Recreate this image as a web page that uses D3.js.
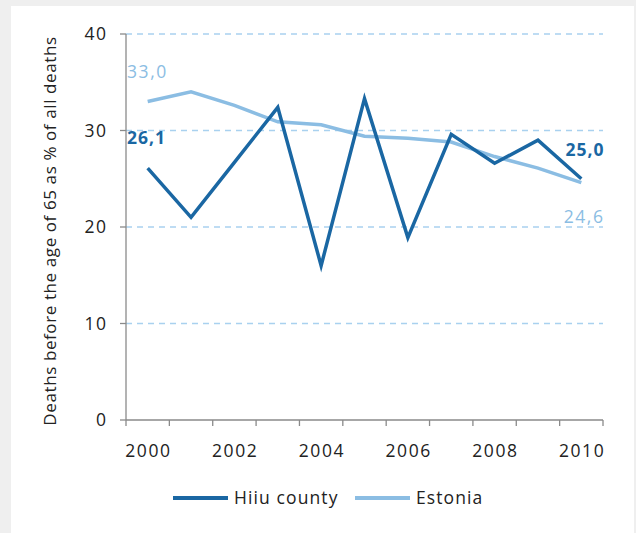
<!DOCTYPE html>
<html>
<head>
<meta charset="utf-8">
<script src="https://cdn.jsdelivr.net/npm/d3@7"></script>
<style>
  html, body { margin: 0; padding: 0; background: #efefef; }
  svg { display: block; }
  text { font-family: "Open Sans", sans-serif; fill: #222; }
</style>
</head>
<body>
<svg id="chart" width="636" height="533"></svg>
<script>
// données
const years   = [2000, 2001, 2002, 2003, 2004, 2005, 2006, 2007, 2008, 2009, 2010];
const hiiu    = [26.1, 21.0, 26.7, 32.4, 16.0, 33.3, 18.9, 29.6, 26.6, 29.0, 25.0];
const estonia = [33.0, 34.0, 32.6, 30.9, 30.6, 29.4, 29.2, 28.8, 27.3, 26.1, 24.6];
const yTicks  = [0, 10, 20, 30, 40];
const xLabels = [2000, 2002, 2004, 2006, 2008, 2010];
const series  = [
  { name: "Hiiu county", values: hiiu,    color: "#1a67a3" },
  { name: "Estonia",     values: estonia, color: "#8bbde3" }
];

const svg = d3.select("#chart");

// panneau blanc
svg.append("rect")
  .attr("x", 11).attr("y", 6)
  .attr("width", 623).attr("height", 527)
  .attr("fill", "#fff");

const mLeft = 126, mRight = 603, mTop = 34, mBottom = 420;
const LS = 1.6; // espacement des chiffres

const x = d3.scaleBand().domain(years).range([mLeft, mRight]);
const y = d3.scaleLinear().domain([0, 40]).range([mBottom, mTop]);
const cx = d => x(d) + x.bandwidth() / 2;

// grille en tirets
svg.append("g")
  .selectAll("line")
  .data(yTicks.filter(t => t > 0))
  .join("line")
  .attr("x1", mLeft).attr("x2", mRight)
  .attr("y1", d => y(d)).attr("y2", d => y(d))
  .attr("stroke", "#a9d1ef")
  .attr("stroke-width", 1.3)
  .attr("stroke-dasharray", "6,5");

// axe Y
svg.append("line")
  .attr("x1", mLeft).attr("x2", mLeft)
  .attr("y1", mTop).attr("y2", mBottom)
  .attr("stroke", "#8a8a8a").attr("stroke-width", 1.3);

svg.append("g")
  .selectAll("line")
  .data(yTicks)
  .join("line")
  .attr("x1", mLeft - 6).attr("x2", mLeft)
  .attr("y1", d => y(d)).attr("y2", d => y(d))
  .attr("stroke", "#8a8a8a").attr("stroke-width", 1.3);

svg.append("g")
  .selectAll("text")
  .data(yTicks)
  .join("text")
  .attr("x", 106 + LS)
  .attr("y", d => y(d))
  .attr("dy", "0.36em")
  .attr("text-anchor", "end")
  .style("font-size", "17.5px")
  .style("letter-spacing", LS + "px")
  .text(d => d);

// axe X
svg.append("line")
  .attr("x1", mLeft).attr("x2", mRight)
  .attr("y1", mBottom).attr("y2", mBottom)
  .attr("stroke", "#8a8a8a").attr("stroke-width", 1.3);

const bounds = years.map(d => x(d)).concat([mRight]);
svg.append("g")
  .selectAll("line")
  .data(bounds)
  .join("line")
  .attr("x1", d => d).attr("x2", d => d)
  .attr("y1", mBottom).attr("y2", mBottom + 6)
  .attr("stroke", "#8a8a8a").attr("stroke-width", 1.3);

svg.append("g")
  .selectAll("text")
  .data(xLabels)
  .join("text")
  .attr("x", d => cx(d) + LS / 2)
  .attr("y", 457)
  .attr("text-anchor", "middle")
  .style("font-size", "17.5px")
  .style("letter-spacing", LS + "px")
  .text(d => d);

// titre de l'axe Y
svg.append("text")
  .attr("transform", "translate(56,231) rotate(-90)")
  .attr("text-anchor", "middle")
  .style("font-size", "17px")
  .style("letter-spacing", "0.6px")
  .text("Deaths before the age of 65 as % of all deaths");

// lignes
const line = d3.line()
  .x((d, i) => cx(years[i]))
  .y(d => y(d));

svg.append("g")
  .selectAll("path")
  .data(series.slice().reverse())
  .join("path")
  .attr("d", s => line(s.values))
  .attr("fill", "none")
  .attr("stroke", s => s.color)
  .attr("stroke-width", 3.5)
  .attr("stroke-linejoin", "miter");

// étiquettes des valeurs
const fmt = v => v.toFixed(1).replace(".", ",");
const labels = [
  { v: estonia[0],  x: mLeft + 1,       y: 78,  anchor: "start", color: "#8bbde3", bold: false },
  { v: hiiu[0],     x: mLeft + 1,       y: 144, anchor: "start", color: "#1a67a3", bold: true },
  { v: hiiu[10],    x: mRight + LS,     y: 156, anchor: "end",   color: "#1a67a3", bold: true },
  { v: estonia[10], x: mRight + LS,     y: 223, anchor: "end",   color: "#8bbde3", bold: false }
];
svg.append("g")
  .selectAll("text")
  .data(labels)
  .join("text")
  .attr("x", d => d.x)
  .attr("y", d => d.y)
  .attr("text-anchor", d => d.anchor)
  .style("font-size", "17.5px")
  .style("letter-spacing", d => d.bold ? "1px" : LS + "px")
  .style("font-weight", d => d.bold ? "bold" : "normal")
  .style("fill", d => d.color)
  .text(d => fmt(d.v));

// légende
const legendPos = [173, 355];
const lg = svg.append("g")
  .selectAll("g")
  .data(series)
  .join("g")
  .attr("transform", (d, i) => `translate(${legendPos[i]},498)`);
lg.append("line")
  .attr("x1", 0).attr("x2", 55)
  .attr("stroke", d => d.color)
  .attr("stroke-width", 4);
lg.append("text")
  .attr("x", 61)
  .attr("dy", "0.35em")
  .style("font-size", "17.5px")
  .style("letter-spacing", "1.1px")
  .text(d => d.name);
</script>
</body>
</html>
